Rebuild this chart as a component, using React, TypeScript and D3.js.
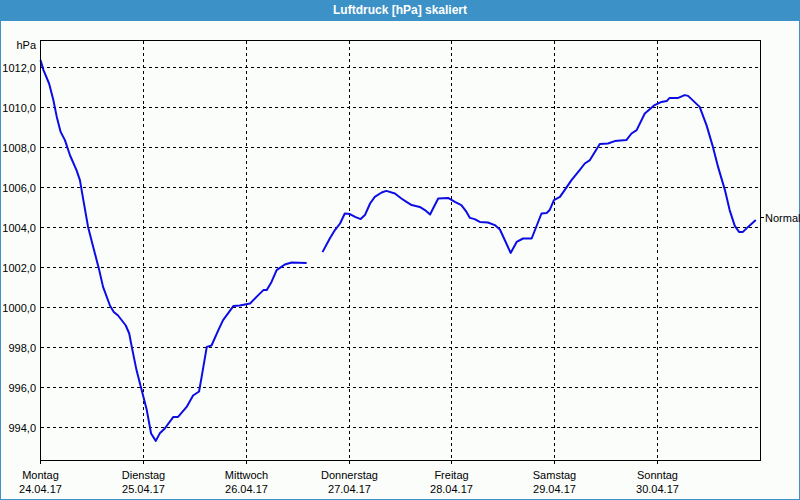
import React from "react";
import * as d3 from "d3";

const TITLE = "Luftdruck [hPa] skaliert";
const UNIT = "hPa";
const dayNames = ["Montag", "Dienstag", "Mittwoch", "Donnerstag", "Freitag", "Samstag", "Sonntag"];
const dayDates = ["24.04.17", "25.04.17", "26.04.17", "27.04.17", "28.04.17", "29.04.17", "30.04.17"];
const yTicks = [994, 996, 998, 1000, 1002, 1004, 1006, 1008, 1010, 1012];
const normalValue = 1004.5;
const normalLabel = "Normal";

// hours since Mon 24.04.17 00:00; null = gap in record
const hours = [
  0, 0.7, 2.0, 3.0, 3.8, 4.7, 5.7, 6.9, 8.4, 9.2, 10.0, 11.1, 12.3, 13.7, 14.6, 16.2, 17.1, 18.1,
  19.9, 20.7, 21.3, 22.4, 23.6, 24.8, 25.8, 26.9, 27.9, 29.0, 31.0, 32.1, 34.1, 35.6, 37.0, 37.6,
  38.8, 39.9, 41.5, 42.6, 45.0, 46.5, 48.9, 50.4, 52.0, 52.8, 53.9, 55.1, 57.0, 58.6, 62.1,
  64.0,
  65.8, 67.5, 68.7, 69.9, 71.0, 72.2, 73.4, 74.7, 75.7, 76.9, 78.0, 79.6, 80.7, 82.7, 84.2, 85.4,
  86.6, 88.5, 89.7, 90.9, 91.6, 92.8, 95.1, 96.7, 98.2, 99.4, 100.2, 101.3, 102.5, 104.4, 106.0,
  107.2, 109.7, 111.1, 112.6, 114.6, 116.9, 118.1, 118.8, 119.8, 121.2, 122.3, 123.9, 125.8,
  127.0, 128.2, 130.5, 132.4, 134.0, 136.7, 137.9, 139.1, 141.0, 143.3, 144.9, 146.1, 146.8,
  148.8, 150.3, 151.1, 153.8, 155.4, 156.9, 158.1, 159.7, 160.8, 162.0, 163.0, 163.9, 165.1, 166.9,
];
const pressure: (number | null)[] = [
  1012.37, 1011.87, 1011.2, 1010.37, 1009.53, 1008.78, 1008.37, 1007.6, 1006.87, 1006.37, 1005.37,
  1004.03, 1003.03, 1001.87, 1001.03, 1000.1, 999.78, 999.6, 999.1, 998.7, 998.03, 996.87, 995.87,
  994.87, 993.7, 993.33, 993.73, 993.95, 994.53, 994.53, 995.03, 995.6, 995.8, 996.53, 998.03,
  998.1, 998.87, 999.37, 1000.07, 1000.1, 1000.2, 1000.53, 1000.87, 1000.87, 1001.28, 1001.87,
  1002.15, 1002.25, 1002.23,
  null,
  1002.77, 1003.45, 1003.87, 1004.2, 1004.7, 1004.67, 1004.53, 1004.42, 1004.62, 1005.2, 1005.53,
  1005.75, 1005.83, 1005.7, 1005.45, 1005.28, 1005.12, 1005.03, 1004.87, 1004.65, 1004.95, 1005.45,
  1005.48, 1005.28, 1005.12, 1004.78, 1004.48, 1004.42, 1004.28, 1004.25, 1004.12, 1003.9,
  1002.73, 1003.28, 1003.45, 1003.45, 1004.7, 1004.73, 1004.87, 1005.37, 1005.53, 1005.87,
  1006.37, 1006.87, 1007.2, 1007.37, 1008.17, 1008.2, 1008.32, 1008.37, 1008.7, 1008.87, 1009.7,
  1010.12, 1010.28, 1010.32, 1010.48, 1010.48, 1010.62, 1010.58, 1010.03, 1009.12, 1008.03,
  1007.03, 1005.87, 1004.87, 1004.08, 1003.78, 1003.78, 1004.03, 1004.37,
];

const W = 800;
const H = 500;
const FONT = "'Liberation Sans', Arial, sans-serif";

export default function App() {
  const left = 40.5, right = 760.5, top = 40.5, bottom = 460.5;
  const x = d3.scaleLinear().domain([0, 168]).range([left, right]);
  const y = d3.scaleLinear().domain([992.35, 1013.35]).range([bottom, top]);
  const data = hours.map((h, i) => ({ h, v: pressure[i] }));
  const line = d3
    .line<{ h: number; v: number | null }>()
    .defined((d) => d.v !== null)
    .x((d) => x(d.h))
    .y((d) => y(d.v as number));
  const snap = (v: number) => Math.round(v - 0.5) + 0.5;
  const dayX = dayNames.map((_, i) => snap(x(i * 24)));

  return (
    <svg
      width={W}
      height={H}
      style={{ position: "fixed", left: 0, top: 0, display: "block" }}
      fontFamily={FONT}
    >
      <rect x={0} y={0} width={W} height={H} fill="#3c91c6" />
      <rect x={1} y={21} width={W - 2} height={H - 22} fill="#fbfdfb" />
      <text x={400} y={14} textAnchor="middle" fill="#ffffff" fontWeight="bold" fontSize={12}>
        {TITLE}
      </text>

      {/* horizontal grid */}
      {yTicks.map((t) => (
        <line
          key={"h" + t}
          x1={left}
          x2={right}
          y1={snap(y(t))}
          y2={snap(y(t))}
          stroke="#000"
          strokeWidth={1}
          strokeDasharray="3,3"
          shapeRendering="crispEdges"
        />
      ))}
      {/* vertical grid */}
      {dayX.slice(1).map((dx, i) => (
        <line
          key={"v" + i}
          x1={dx}
          x2={dx}
          y1={top}
          y2={bottom + 3}
          stroke="#000"
          strokeWidth={1}
          strokeDasharray="3,3"
          shapeRendering="crispEdges"
        />
      ))}

      <path
        d={line(data as any) || ""}
        fill="none"
        stroke="#0c0ce4"
        strokeWidth={2}
        strokeLinejoin="round"
      />

      {/* frame */}
      <rect
        x={left}
        y={top}
        width={right - left}
        height={bottom - top}
        fill="none"
        stroke="#000"
        strokeWidth={1}
        shapeRendering="crispEdges"
      />
      {/* bottom ticks */}
      {dayX.map((dx, i) => (
        <line key={"t" + i} x1={dx} x2={dx} y1={bottom} y2={bottom + 3} stroke="#000" shapeRendering="crispEdges" />
      ))}

      {/* y labels */}
      <text x={36} y={49} textAnchor="end" fontSize={11} fill="#000">
        {UNIT}
      </text>
      {yTicks.map((t) => (
        <text key={"l" + t} x={36} y={snap(y(t)) + 4} textAnchor="end" fontSize={11} fill="#000">
          {d3.format(".1f")(t).replace(".", ",")}
        </text>
      ))}

      {/* x labels */}
      {dayNames.map((n, i) => (
        <g key={"d" + i}>
          <text x={dayX[i]} y={479} textAnchor="middle" fontSize={11} fill="#000">
            {n}
          </text>
          <text x={dayX[i]} y={493} textAnchor="middle" fontSize={11} fill="#000">
            {dayDates[i]}
          </text>
        </g>
      ))}

      {/* normal marker */}
      <line x1={right} x2={right + 3} y1={snap(y(normalValue))} y2={snap(y(normalValue))} stroke="#000" shapeRendering="crispEdges" />
      <text x={765} y={snap(y(normalValue)) + 4} fontSize={11} fill="#000">
        {normalLabel}
      </text>
    </svg>
  );
}
